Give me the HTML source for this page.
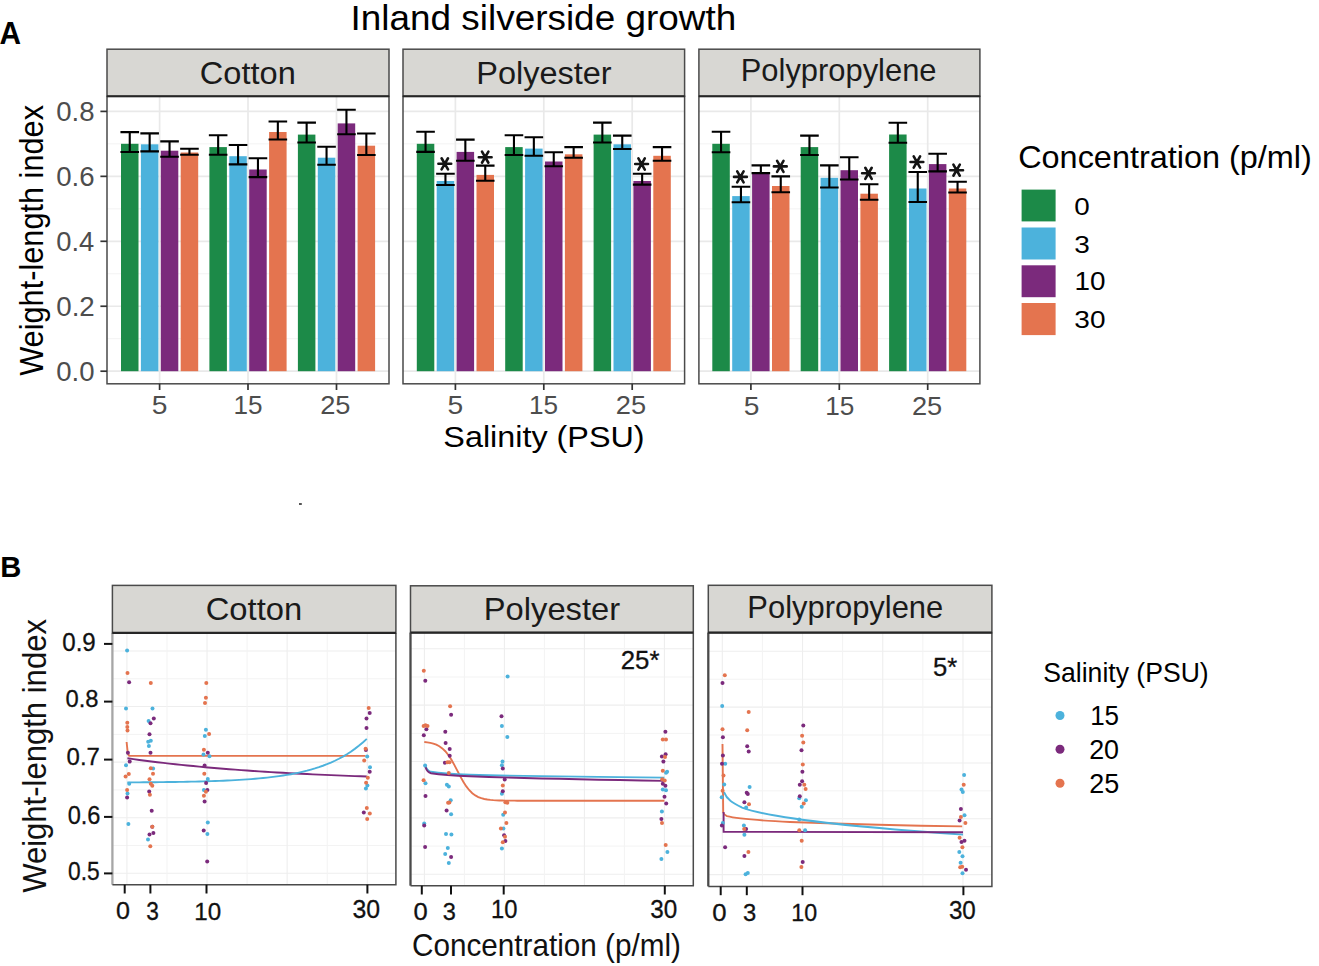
<!DOCTYPE html>
<html><head><meta charset="utf-8"><title>Inland silverside growth</title><style>html,body{margin:0;padding:0;background:#fff;width:1319px;height:966px;overflow:hidden}svg{display:block}</style></head>
<body><svg width="1319" height="966" viewBox="0 0 1319 966" font-family="'Liberation Sans', sans-serif"><rect x="0" y="0" width="1319" height="966" fill="#fff"/>
<line x1="107.0" x2="389.0" y1="338.72" y2="338.72" stroke="#f3f3f3" stroke-width="1"/>
<line x1="107.0" x2="389.0" y1="273.77" y2="273.77" stroke="#f3f3f3" stroke-width="1"/>
<line x1="107.0" x2="389.0" y1="208.82" y2="208.82" stroke="#f3f3f3" stroke-width="1"/>
<line x1="107.0" x2="389.0" y1="143.88" y2="143.88" stroke="#f3f3f3" stroke-width="1"/>
<line x1="107.0" x2="389.0" y1="371.20" y2="371.20" stroke="#e9e9e9" stroke-width="1.7"/>
<line x1="107.0" x2="389.0" y1="306.25" y2="306.25" stroke="#e9e9e9" stroke-width="1.7"/>
<line x1="107.0" x2="389.0" y1="241.30" y2="241.30" stroke="#e9e9e9" stroke-width="1.7"/>
<line x1="107.0" x2="389.0" y1="176.35" y2="176.35" stroke="#e9e9e9" stroke-width="1.7"/>
<line x1="107.0" x2="389.0" y1="111.40" y2="111.40" stroke="#e9e9e9" stroke-width="1.7"/>
<line x1="159.6" x2="159.6" y1="96.3" y2="383.8" stroke="#e9e9e9" stroke-width="1.7"/>
<line x1="248.0" x2="248.0" y1="96.3" y2="383.8" stroke="#e9e9e9" stroke-width="1.7"/>
<line x1="336.5" x2="336.5" y1="96.3" y2="383.8" stroke="#e9e9e9" stroke-width="1.7"/>
<rect x="121.00" y="143.8" width="17.5" height="227.40" fill="#1c8a48"/>
<rect x="140.90" y="144.3" width="17.5" height="226.90" fill="#4cb2dc"/>
<rect x="160.80" y="150.7" width="17.5" height="220.50" fill="#7b2a7c"/>
<rect x="180.70" y="152.5" width="17.5" height="218.70" fill="#e4744f"/>
<path d="M120.45 132.1H139.05M129.75 132.1V152M120.45 152H139.05" stroke="#000" stroke-width="2.1" fill="none"/>
<path d="M140.35 133.4H158.95M149.65 133.4V151.4M140.35 151.4H158.95" stroke="#000" stroke-width="2.1" fill="none"/>
<path d="M160.25 141.4H178.85M169.55 141.4V156.7M160.25 156.7H178.85" stroke="#000" stroke-width="2.1" fill="none"/>
<path d="M180.15 148.8H198.75M189.45 148.8V154.7M180.15 154.7H198.75" stroke="#000" stroke-width="2.1" fill="none"/>
<rect x="209.40" y="147.1" width="17.5" height="224.10" fill="#1c8a48"/>
<rect x="229.30" y="156.2" width="17.5" height="215.00" fill="#4cb2dc"/>
<rect x="249.20" y="169.5" width="17.5" height="201.70" fill="#7b2a7c"/>
<rect x="269.10" y="132" width="17.5" height="239.20" fill="#e4744f"/>
<path d="M208.85 135.2H227.45M218.15 135.2V154.8M208.85 154.8H227.45" stroke="#000" stroke-width="2.1" fill="none"/>
<path d="M228.75 145H247.35M238.05 145V164.4M228.75 164.4H247.35" stroke="#000" stroke-width="2.1" fill="none"/>
<path d="M248.65 158.2H267.25M257.95 158.2V177.1M248.65 177.1H267.25" stroke="#000" stroke-width="2.1" fill="none"/>
<path d="M268.55 121.5H287.15M277.85 121.5V139.5M268.55 139.5H287.15" stroke="#000" stroke-width="2.1" fill="none"/>
<rect x="297.90" y="134.6" width="17.5" height="236.60" fill="#1c8a48"/>
<rect x="317.80" y="157.7" width="17.5" height="213.50" fill="#4cb2dc"/>
<rect x="337.70" y="123.4" width="17.5" height="247.80" fill="#7b2a7c"/>
<rect x="357.60" y="145.7" width="17.5" height="225.50" fill="#e4744f"/>
<path d="M297.35 122.6H315.95M306.65 122.6V142.5M297.35 142.5H315.95" stroke="#000" stroke-width="2.1" fill="none"/>
<path d="M317.25 146.7H335.85M326.55 146.7V164.7M317.25 164.7H335.85" stroke="#000" stroke-width="2.1" fill="none"/>
<path d="M337.15 109.7H355.75M346.45 109.7V134.2M337.15 134.2H355.75" stroke="#000" stroke-width="2.1" fill="none"/>
<path d="M357.05 133.5H375.65M366.35 133.5V155M357.05 155H375.65" stroke="#000" stroke-width="2.1" fill="none"/>
<rect x="107.0" y="96.3" width="282.00" height="287.50" fill="none" stroke="#4a4a4a" stroke-width="1.5"/>
<rect x="107.0" y="49.2" width="282.00" height="47.10" fill="#d8d7d3" stroke="#4a4a4a" stroke-width="1.5"/>
<line x1="107.0" x2="389.0" y1="96.3" y2="96.3" stroke="#262626" stroke-width="2.1"/>
<line x1="159.6" x2="159.6" y1="383.8" y2="390.0" stroke="#333" stroke-width="1.7"/>
<line x1="248.0" x2="248.0" y1="383.8" y2="390.0" stroke="#333" stroke-width="1.7"/>
<line x1="336.5" x2="336.5" y1="383.8" y2="390.0" stroke="#333" stroke-width="1.7"/>
<line x1="403.0" x2="684.6" y1="338.72" y2="338.72" stroke="#f3f3f3" stroke-width="1"/>
<line x1="403.0" x2="684.6" y1="273.77" y2="273.77" stroke="#f3f3f3" stroke-width="1"/>
<line x1="403.0" x2="684.6" y1="208.82" y2="208.82" stroke="#f3f3f3" stroke-width="1"/>
<line x1="403.0" x2="684.6" y1="143.88" y2="143.88" stroke="#f3f3f3" stroke-width="1"/>
<line x1="403.0" x2="684.6" y1="371.20" y2="371.20" stroke="#e9e9e9" stroke-width="1.7"/>
<line x1="403.0" x2="684.6" y1="306.25" y2="306.25" stroke="#e9e9e9" stroke-width="1.7"/>
<line x1="403.0" x2="684.6" y1="241.30" y2="241.30" stroke="#e9e9e9" stroke-width="1.7"/>
<line x1="403.0" x2="684.6" y1="176.35" y2="176.35" stroke="#e9e9e9" stroke-width="1.7"/>
<line x1="403.0" x2="684.6" y1="111.40" y2="111.40" stroke="#e9e9e9" stroke-width="1.7"/>
<line x1="455.4" x2="455.4" y1="96.3" y2="383.8" stroke="#e9e9e9" stroke-width="1.7"/>
<line x1="543.8" x2="543.8" y1="96.3" y2="383.8" stroke="#e9e9e9" stroke-width="1.7"/>
<line x1="632.2" x2="632.2" y1="96.3" y2="383.8" stroke="#e9e9e9" stroke-width="1.7"/>
<rect x="416.80" y="143.8" width="17.5" height="227.40" fill="#1c8a48"/>
<rect x="436.70" y="181" width="17.5" height="190.20" fill="#4cb2dc"/>
<rect x="456.60" y="151.9" width="17.5" height="219.30" fill="#7b2a7c"/>
<rect x="476.50" y="174.9" width="17.5" height="196.30" fill="#e4744f"/>
<path d="M416.25 131.7H434.85M425.55 131.7V151.9M416.25 151.9H434.85" stroke="#000" stroke-width="2.1" fill="none"/>
<path d="M436.15 173.8H454.75M445.45 173.8V185M436.15 185H454.75" stroke="#000" stroke-width="2.1" fill="none"/>
<path d="M456.05 139.6H474.65M465.35 139.6V160.8M456.05 160.8H474.65" stroke="#000" stroke-width="2.1" fill="none"/>
<path d="M475.95 165.6H494.55M485.25 165.6V180.7M475.95 180.7H494.55" stroke="#000" stroke-width="2.1" fill="none"/>
<rect x="505.20" y="147.1" width="17.5" height="224.10" fill="#1c8a48"/>
<rect x="525.10" y="148.6" width="17.5" height="222.60" fill="#4cb2dc"/>
<rect x="545.00" y="161.5" width="17.5" height="209.70" fill="#7b2a7c"/>
<rect x="564.90" y="154.3" width="17.5" height="216.90" fill="#e4744f"/>
<path d="M504.65 135.2H523.25M513.95 135.2V155M504.65 155H523.25" stroke="#000" stroke-width="2.1" fill="none"/>
<path d="M524.55 137.3H543.15M533.85 137.3V155.8M524.55 155.8H543.15" stroke="#000" stroke-width="2.1" fill="none"/>
<path d="M544.45 152.2H563.05M553.75 152.2V166.3M544.45 166.3H563.05" stroke="#000" stroke-width="2.1" fill="none"/>
<path d="M564.35 147.1H582.95M573.65 147.1V157.7M564.35 157.7H582.95" stroke="#000" stroke-width="2.1" fill="none"/>
<rect x="593.60" y="134.6" width="17.5" height="236.60" fill="#1c8a48"/>
<rect x="613.50" y="144.3" width="17.5" height="226.90" fill="#4cb2dc"/>
<rect x="633.40" y="181" width="17.5" height="190.20" fill="#7b2a7c"/>
<rect x="653.30" y="155.8" width="17.5" height="215.40" fill="#e4744f"/>
<path d="M593.05 122.6H611.65M602.35 122.6V142.5M593.05 142.5H611.65" stroke="#000" stroke-width="2.1" fill="none"/>
<path d="M612.95 135.6H631.55M622.25 135.6V149M612.95 149H631.55" stroke="#000" stroke-width="2.1" fill="none"/>
<path d="M632.85 173.8H651.45M642.15 173.8V184.6M632.85 184.6H651.45" stroke="#000" stroke-width="2.1" fill="none"/>
<path d="M652.75 147.1H671.35M662.05 147.1V160.8M652.75 160.8H671.35" stroke="#000" stroke-width="2.1" fill="none"/>
<rect x="403.0" y="96.3" width="281.60" height="287.50" fill="none" stroke="#4a4a4a" stroke-width="1.5"/>
<rect x="403.0" y="49.2" width="281.60" height="47.10" fill="#d8d7d3" stroke="#4a4a4a" stroke-width="1.5"/>
<line x1="403.0" x2="684.6" y1="96.3" y2="96.3" stroke="#262626" stroke-width="2.1"/>
<line x1="455.4" x2="455.4" y1="383.8" y2="390.0" stroke="#333" stroke-width="1.7"/>
<line x1="543.8" x2="543.8" y1="383.8" y2="390.0" stroke="#333" stroke-width="1.7"/>
<line x1="632.2" x2="632.2" y1="383.8" y2="390.0" stroke="#333" stroke-width="1.7"/>
<line x1="698.9" x2="979.9" y1="338.72" y2="338.72" stroke="#f3f3f3" stroke-width="1"/>
<line x1="698.9" x2="979.9" y1="273.77" y2="273.77" stroke="#f3f3f3" stroke-width="1"/>
<line x1="698.9" x2="979.9" y1="208.82" y2="208.82" stroke="#f3f3f3" stroke-width="1"/>
<line x1="698.9" x2="979.9" y1="143.88" y2="143.88" stroke="#f3f3f3" stroke-width="1"/>
<line x1="698.9" x2="979.9" y1="371.20" y2="371.20" stroke="#e9e9e9" stroke-width="1.7"/>
<line x1="698.9" x2="979.9" y1="306.25" y2="306.25" stroke="#e9e9e9" stroke-width="1.7"/>
<line x1="698.9" x2="979.9" y1="241.30" y2="241.30" stroke="#e9e9e9" stroke-width="1.7"/>
<line x1="698.9" x2="979.9" y1="176.35" y2="176.35" stroke="#e9e9e9" stroke-width="1.7"/>
<line x1="698.9" x2="979.9" y1="111.40" y2="111.40" stroke="#e9e9e9" stroke-width="1.7"/>
<line x1="750.9" x2="750.9" y1="96.3" y2="383.8" stroke="#e9e9e9" stroke-width="1.7"/>
<line x1="839.3" x2="839.3" y1="96.3" y2="383.8" stroke="#e9e9e9" stroke-width="1.7"/>
<line x1="927.7" x2="927.7" y1="96.3" y2="383.8" stroke="#e9e9e9" stroke-width="1.7"/>
<rect x="712.30" y="143.8" width="17.5" height="227.40" fill="#1c8a48"/>
<rect x="732.20" y="196.1" width="17.5" height="175.10" fill="#4cb2dc"/>
<rect x="752.10" y="172.3" width="17.5" height="198.90" fill="#7b2a7c"/>
<rect x="772.00" y="186" width="17.5" height="185.20" fill="#e4744f"/>
<path d="M711.75 131.7H730.35M721.05 131.7V152.2M711.75 152.2H730.35" stroke="#000" stroke-width="2.1" fill="none"/>
<path d="M731.65 186.8H750.25M740.95 186.8V202.3M731.65 202.3H750.25" stroke="#000" stroke-width="2.1" fill="none"/>
<path d="M751.55 165.4H770.15M760.85 165.4V173.1M751.55 173.1H770.15" stroke="#000" stroke-width="2.1" fill="none"/>
<path d="M771.45 176.4H790.05M780.75 176.4V192.2M771.45 192.2H790.05" stroke="#000" stroke-width="2.1" fill="none"/>
<rect x="800.70" y="147.1" width="17.5" height="224.10" fill="#1c8a48"/>
<rect x="820.60" y="177.8" width="17.5" height="193.40" fill="#4cb2dc"/>
<rect x="840.50" y="170.2" width="17.5" height="201.00" fill="#7b2a7c"/>
<rect x="860.40" y="193.7" width="17.5" height="177.50" fill="#e4744f"/>
<path d="M800.15 135.6H818.75M809.45 135.6V155M800.15 155H818.75" stroke="#000" stroke-width="2.1" fill="none"/>
<path d="M820.05 165.4H838.65M829.35 165.4V187.5M820.05 187.5H838.65" stroke="#000" stroke-width="2.1" fill="none"/>
<path d="M839.95 157.2H858.55M849.25 157.2V179.5M839.95 179.5H858.55" stroke="#000" stroke-width="2.1" fill="none"/>
<path d="M859.85 184.2H878.45M869.15 184.2V199.7M859.85 199.7H878.45" stroke="#000" stroke-width="2.1" fill="none"/>
<rect x="889.10" y="134.5" width="17.5" height="236.70" fill="#1c8a48"/>
<rect x="909.00" y="188.5" width="17.5" height="182.70" fill="#4cb2dc"/>
<rect x="928.90" y="164.1" width="17.5" height="207.10" fill="#7b2a7c"/>
<rect x="948.80" y="188.5" width="17.5" height="182.70" fill="#e4744f"/>
<path d="M888.55 122.7H907.15M897.85 122.7V142.8M888.55 142.8H907.15" stroke="#000" stroke-width="2.1" fill="none"/>
<path d="M908.45 172H927.05M917.75 172V202M908.45 202H927.05" stroke="#000" stroke-width="2.1" fill="none"/>
<path d="M928.35 153.8H946.95M937.65 153.8V171.4M928.35 171.4H946.95" stroke="#000" stroke-width="2.1" fill="none"/>
<path d="M948.25 181.7H966.85M957.55 181.7V192.5M948.25 192.5H966.85" stroke="#000" stroke-width="2.1" fill="none"/>
<rect x="698.9" y="96.3" width="281.00" height="287.50" fill="none" stroke="#4a4a4a" stroke-width="1.5"/>
<rect x="698.9" y="49.2" width="281.00" height="47.10" fill="#d8d7d3" stroke="#4a4a4a" stroke-width="1.5"/>
<line x1="698.9" x2="979.9" y1="96.3" y2="96.3" stroke="#262626" stroke-width="2.1"/>
<line x1="750.9" x2="750.9" y1="383.8" y2="390.0" stroke="#333" stroke-width="1.7"/>
<line x1="839.3" x2="839.3" y1="383.8" y2="390.0" stroke="#333" stroke-width="1.7"/>
<line x1="927.7" x2="927.7" y1="383.8" y2="390.0" stroke="#333" stroke-width="1.7"/>
<path d="M438.40 163.80H451.20M441.60 158.26L448.00 169.34M448.00 158.26L441.60 169.34" stroke="#141414" stroke-width="2.6" stroke-linecap="round"/>
<path d="M478.80 157.20H491.60M482.00 151.66L488.40 162.74M488.40 151.66L482.00 162.74" stroke="#141414" stroke-width="2.6" stroke-linecap="round"/>
<path d="M635.20 164.00H648.00M638.40 158.46L644.80 169.54M644.80 158.46L638.40 169.54" stroke="#141414" stroke-width="2.6" stroke-linecap="round"/>
<path d="M734.00 176.90H746.80M737.20 171.36L743.60 182.44M743.60 171.36L737.20 182.44" stroke="#141414" stroke-width="2.6" stroke-linecap="round"/>
<path d="M773.90 166.40H786.70M777.10 160.86L783.50 171.94M783.50 160.86L777.10 171.94" stroke="#141414" stroke-width="2.6" stroke-linecap="round"/>
<path d="M862.10 173.30H874.90M865.30 167.76L871.70 178.84M871.70 167.76L865.30 178.84" stroke="#141414" stroke-width="2.6" stroke-linecap="round"/>
<path d="M910.50 162.00H923.30M913.70 156.46L920.10 167.54M920.10 156.46L913.70 167.54" stroke="#141414" stroke-width="2.6" stroke-linecap="round"/>
<path d="M950.20 170.20H963.00M953.40 164.66L959.80 175.74M959.80 164.66L953.40 175.74" stroke="#141414" stroke-width="2.6" stroke-linecap="round"/>
<line x1="100.4" x2="107" y1="371.20" y2="371.20" stroke="#333" stroke-width="1.7"/>
<text transform="translate(56.20 380.83) scale(1.0208 1)" font-size="27.00" fill="#4d4d4d">0.0</text>
<line x1="100.4" x2="107" y1="306.25" y2="306.25" stroke="#333" stroke-width="1.7"/>
<text transform="translate(56.19 315.88) scale(1.0286 1)" font-size="27.00" fill="#4d4d4d">0.2</text>
<line x1="100.4" x2="107" y1="241.30" y2="241.30" stroke="#333" stroke-width="1.7"/>
<text transform="translate(56.21 250.93) scale(1.0130 1)" font-size="27.00" fill="#4d4d4d">0.4</text>
<line x1="100.4" x2="107" y1="176.35" y2="176.35" stroke="#333" stroke-width="1.7"/>
<text transform="translate(56.19 185.98) scale(1.0247 1)" font-size="27.00" fill="#4d4d4d">0.6</text>
<line x1="100.4" x2="107" y1="111.40" y2="111.40" stroke="#333" stroke-width="1.7"/>
<text transform="translate(56.20 121.03) scale(1.0227 1)" font-size="27.00" fill="#4d4d4d">0.8</text>
<text transform="translate(151.87 414.24) scale(1.0871 1)" font-size="25.95" fill="#4d4d4d">5</text>
<text transform="translate(233.44 414.24) scale(1.0070 1)" font-size="25.95" fill="#4d4d4d">15</text>
<text transform="translate(320.14 414.24) scale(1.0654 1)" font-size="25.58" fill="#4d4d4d">25</text>
<text transform="translate(447.47 414.24) scale(1.0871 1)" font-size="25.95" fill="#4d4d4d">5</text>
<text transform="translate(529.04 414.24) scale(1.0070 1)" font-size="25.95" fill="#4d4d4d">15</text>
<text transform="translate(615.74 414.24) scale(1.0654 1)" font-size="25.58" fill="#4d4d4d">25</text>
<text transform="translate(743.67 414.84) scale(1.0871 1)" font-size="25.95" fill="#4d4d4d">5</text>
<text transform="translate(825.24 414.84) scale(1.0070 1)" font-size="25.95" fill="#4d4d4d">15</text>
<text transform="translate(911.94 414.84) scale(1.0654 1)" font-size="25.58" fill="#4d4d4d">25</text>
<text transform="translate(350.58 29.50) scale(1.0349 1)" font-size="35.67" fill="#000">Inland silverside growth</text>
<text transform="translate(-0.45 43.60) scale(0.9590 1)" font-size="31.13" font-weight="bold" fill="#000">A</text>
<text transform="translate(199.77 83.58) scale(1.0247 1)" font-size="31.80" fill="#1a1a1a">Cotton</text>
<text transform="translate(476.22 83.70) scale(1.0464 1)" font-size="31.06" fill="#1a1a1a">Polyester</text>
<text transform="translate(740.75 80.90) scale(1.0040 1)" font-size="30.78" fill="#1a1a1a">Polypropylene</text>
<text transform="translate(443.34 447.10) scale(1.0657 1)" font-size="30.35" fill="#000">Salinity (PSU)</text>
<text transform="translate(42.90 375.85) rotate(-90) scale(0.9419 1)" font-size="32.62" fill="#000">Weight-length index</text>
<text transform="translate(1018.18 168.12) scale(1.0393 1)" font-size="31.21" fill="#000">Concentration (p/ml)</text>
<rect x="1021.6" y="189.6" width="34" height="31.8" fill="#1c8a48"/>
<rect x="1021.6" y="227.5" width="34" height="32.0" fill="#4cb2dc"/>
<rect x="1021.6" y="265.3" width="34" height="31.9" fill="#7b2a7c"/>
<rect x="1021.6" y="303" width="34" height="32.1" fill="#e4744f"/>
<text transform="translate(1074.29 214.55) scale(1.1325 1)" font-size="24.59" fill="#000">0</text>
<text transform="translate(1074.35 252.56) scale(1.1451 1)" font-size="24.45" fill="#000">3</text>
<text transform="translate(1074.51 290.35) scale(1.1203 1)" font-size="24.88" fill="#000">10</text>
<text transform="translate(1074.35 327.95) scale(1.1393 1)" font-size="24.59" fill="#000">30</text>
<rect x="299" y="503" width="2.8" height="2" fill="#555"/>
<line x1="112.4" x2="395.9" y1="873.30" y2="873.30" stroke="#eeeeee" stroke-width="1.1"/>
<line x1="112.4" x2="395.9" y1="845.51" y2="845.51" stroke="#f3f3f3" stroke-width="1"/>
<line x1="112.4" x2="395.9" y1="817.73" y2="817.73" stroke="#eeeeee" stroke-width="1.1"/>
<line x1="112.4" x2="395.9" y1="789.94" y2="789.94" stroke="#f3f3f3" stroke-width="1"/>
<line x1="112.4" x2="395.9" y1="762.15" y2="762.15" stroke="#eeeeee" stroke-width="1.1"/>
<line x1="112.4" x2="395.9" y1="734.36" y2="734.36" stroke="#f3f3f3" stroke-width="1"/>
<line x1="112.4" x2="395.9" y1="706.57" y2="706.57" stroke="#eeeeee" stroke-width="1.1"/>
<line x1="112.4" x2="395.9" y1="678.79" y2="678.79" stroke="#f3f3f3" stroke-width="1"/>
<line x1="112.4" x2="395.9" y1="651.00" y2="651.00" stroke="#eeeeee" stroke-width="1.1"/>
<line x1="126.90" x2="126.90" y1="632.9" y2="884.7" stroke="#eeeeee" stroke-width="1.1"/>
<line x1="166.97" x2="166.97" y1="632.9" y2="884.7" stroke="#f3f3f3" stroke-width="1"/>
<line x1="207.03" x2="207.03" y1="632.9" y2="884.7" stroke="#eeeeee" stroke-width="1.1"/>
<line x1="247.09" x2="247.09" y1="632.9" y2="884.7" stroke="#f3f3f3" stroke-width="1"/>
<line x1="287.16" x2="287.16" y1="632.9" y2="884.7" stroke="#eeeeee" stroke-width="1.1"/>
<line x1="327.23" x2="327.23" y1="632.9" y2="884.7" stroke="#f3f3f3" stroke-width="1"/>
<line x1="367.29" x2="367.29" y1="632.9" y2="884.7" stroke="#eeeeee" stroke-width="1.1"/>
<line x1="410.5" x2="693.3" y1="874.30" y2="874.30" stroke="#eeeeee" stroke-width="1.1"/>
<line x1="410.5" x2="693.3" y1="846.11" y2="846.11" stroke="#f3f3f3" stroke-width="1"/>
<line x1="410.5" x2="693.3" y1="817.92" y2="817.92" stroke="#eeeeee" stroke-width="1.1"/>
<line x1="410.5" x2="693.3" y1="789.74" y2="789.74" stroke="#f3f3f3" stroke-width="1"/>
<line x1="410.5" x2="693.3" y1="761.55" y2="761.55" stroke="#eeeeee" stroke-width="1.1"/>
<line x1="410.5" x2="693.3" y1="733.36" y2="733.36" stroke="#f3f3f3" stroke-width="1"/>
<line x1="410.5" x2="693.3" y1="705.17" y2="705.17" stroke="#eeeeee" stroke-width="1.1"/>
<line x1="410.5" x2="693.3" y1="676.99" y2="676.99" stroke="#f3f3f3" stroke-width="1"/>
<line x1="410.5" x2="693.3" y1="648.80" y2="648.80" stroke="#eeeeee" stroke-width="1.1"/>
<line x1="424.40" x2="424.40" y1="632.6" y2="885.7" stroke="#eeeeee" stroke-width="1.1"/>
<line x1="464.40" x2="464.40" y1="632.6" y2="885.7" stroke="#f3f3f3" stroke-width="1"/>
<line x1="504.40" x2="504.40" y1="632.6" y2="885.7" stroke="#eeeeee" stroke-width="1.1"/>
<line x1="544.40" x2="544.40" y1="632.6" y2="885.7" stroke="#f3f3f3" stroke-width="1"/>
<line x1="584.40" x2="584.40" y1="632.6" y2="885.7" stroke="#eeeeee" stroke-width="1.1"/>
<line x1="624.40" x2="624.40" y1="632.6" y2="885.7" stroke="#f3f3f3" stroke-width="1"/>
<line x1="664.40" x2="664.40" y1="632.6" y2="885.7" stroke="#eeeeee" stroke-width="1.1"/>
<line x1="708.3" x2="991.9" y1="874.60" y2="874.60" stroke="#eeeeee" stroke-width="1.1"/>
<line x1="708.3" x2="991.9" y1="846.69" y2="846.69" stroke="#f3f3f3" stroke-width="1"/>
<line x1="708.3" x2="991.9" y1="818.77" y2="818.77" stroke="#eeeeee" stroke-width="1.1"/>
<line x1="708.3" x2="991.9" y1="790.86" y2="790.86" stroke="#f3f3f3" stroke-width="1"/>
<line x1="708.3" x2="991.9" y1="762.95" y2="762.95" stroke="#eeeeee" stroke-width="1.1"/>
<line x1="708.3" x2="991.9" y1="735.04" y2="735.04" stroke="#f3f3f3" stroke-width="1"/>
<line x1="708.3" x2="991.9" y1="707.12" y2="707.12" stroke="#eeeeee" stroke-width="1.1"/>
<line x1="708.3" x2="991.9" y1="679.21" y2="679.21" stroke="#f3f3f3" stroke-width="1"/>
<line x1="708.3" x2="991.9" y1="651.30" y2="651.30" stroke="#eeeeee" stroke-width="1.1"/>
<line x1="722.30" x2="722.30" y1="632.6" y2="886.4" stroke="#eeeeee" stroke-width="1.1"/>
<line x1="762.41" x2="762.41" y1="632.6" y2="886.4" stroke="#f3f3f3" stroke-width="1"/>
<line x1="802.53" x2="802.53" y1="632.6" y2="886.4" stroke="#eeeeee" stroke-width="1.1"/>
<line x1="842.64" x2="842.64" y1="632.6" y2="886.4" stroke="#f3f3f3" stroke-width="1"/>
<line x1="882.76" x2="882.76" y1="632.6" y2="886.4" stroke="#eeeeee" stroke-width="1.1"/>
<line x1="922.88" x2="922.88" y1="632.6" y2="886.4" stroke="#f3f3f3" stroke-width="1"/>
<line x1="962.99" x2="962.99" y1="632.6" y2="886.4" stroke="#eeeeee" stroke-width="1.1"/>
<path d="M126.6 742 L127.6 751.5 Q128.2 755.9 130 755.9 L365.5 755.9" stroke="#e4744f" stroke-width="1.9" fill="none"/>
<path d="M127.4 758.30 L133.4 759.14 L139.4 759.95 L145.4 760.73 L151.3 761.48 L157.3 762.21 L163.3 762.91 L169.3 763.59 L175.3 764.24 L181.3 764.87 L187.2 765.48 L193.2 766.07 L199.2 766.64 L205.2 767.19 L211.2 767.71 L217.2 768.22 L223.2 768.71 L229.1 769.19 L235.1 769.65 L241.1 770.09 L247.1 770.52 L253.1 770.93 L259.1 771.33 L265.1 771.71 L271.0 772.08 L277.0 772.44 L283.0 772.78 L289.0 773.11 L295.0 773.43 L301.0 773.74 L307.0 774.04 L312.9 774.33 L318.9 774.61 L324.9 774.88 L330.9 775.14 L336.9 775.39 L342.9 775.63 L348.8 775.86 L354.8 776.09 L360.8 776.30 L366.8 776.51" stroke="#7b2a7c" stroke-width="1.9" fill="none"/>
<path d="M127.4 782.40 L131.4 782.38 L135.4 782.35 L139.4 782.33 L143.4 782.30 L147.3 782.27 L151.3 782.24 L155.3 782.20 L159.3 782.16 L163.3 782.11 L167.3 782.07 L171.3 782.01 L175.3 781.96 L179.3 781.90 L183.3 781.83 L187.2 781.75 L191.2 781.67 L195.2 781.59 L199.2 781.49 L203.2 781.39 L207.2 781.27 L211.2 781.15 L215.2 781.01 L219.2 780.87 L223.2 780.71 L227.2 780.53 L231.1 780.34 L235.1 780.13 L239.1 779.90 L243.1 779.66 L247.1 779.39 L251.1 779.09 L255.1 778.77 L259.1 778.42 L263.1 778.04 L267.1 777.62 L271.0 777.17 L275.0 776.67 L279.0 776.13 L283.0 775.54 L287.0 774.90 L291.0 774.20 L295.0 773.43 L299.0 772.60 L303.0 771.69 L307.0 770.70 L310.9 769.62 L314.9 768.44 L318.9 767.16 L322.9 765.75 L326.9 764.23 L330.9 762.56 L334.9 760.74 L338.9 758.76 L342.9 756.60 L346.9 754.24 L350.8 751.67 L354.8 748.87 L358.8 745.81 L362.8 742.48 L366.8 738.84" stroke="#4cb2dc" stroke-width="1.9" fill="none"/>
<path d="M424.3 741.97 L427.3 742.33 L430.3 742.85 L433.3 743.61 L436.3 744.71 L439.3 746.25 L442.3 748.38 L445.3 751.25 L448.3 754.96 L451.3 759.53 L454.3 764.84 L457.3 770.59 L460.3 776.36 L463.3 781.74 L466.3 786.42 L469.3 790.24 L472.3 793.21 L475.3 795.42 L478.3 797.03 L481.3 798.17 L484.3 798.97 L487.3 799.52 L490.3 799.90 L493.3 800.15 L496.3 800.33 L499.3 800.45 L502.3 800.53 L505.3 800.59 L508.3 800.62 L511.3 800.65 L514.3 800.66 L517.3 800.68 L520.3 800.68 L523.3 800.69 L526.3 800.69 L529.3 800.70 L532.3 800.70 L535.3 800.70 L538.3 800.70 L541.3 800.70 L544.4 800.70 L547.4 800.70 L550.4 800.70 L553.4 800.70 L556.4 800.70 L559.4 800.70 L562.4 800.70 L565.4 800.70 L568.4 800.70 L571.4 800.70 L574.4 800.70 L577.4 800.70 L580.4 800.70 L583.4 800.70 L586.4 800.70 L589.4 800.70 L592.4 800.70 L595.4 800.70 L598.4 800.70 L601.4 800.70 L604.4 800.70 L607.4 800.70 L610.4 800.70 L613.4 800.70 L616.4 800.70 L619.4 800.70 L622.4 800.70 L625.4 800.70 L628.4 800.70 L631.4 800.70 L634.4 800.70 L637.4 800.70 L640.4 800.70 L643.4 800.70 L646.4 800.70 L649.4 800.70 L652.4 800.70 L655.4 800.70 L658.4 800.70 L661.4 800.70 L664.4 800.70" stroke="#e4744f" stroke-width="1.9" fill="none"/>
<path d="M425.3 765.5 C426.5 769.5 428 771 431 771.8 C440 773.2 450 774 470 774.8 C500 775.6 560 776.8 664.4 777.6" stroke="#4cb2dc" stroke-width="1.9" fill="none"/>
<path d="M425.3 766.5 C426.5 770.5 428 772.5 431 773.2 C440 774.4 450 775.3 470 776.3 C510 777.8 570 779.4 664.4 780.9" stroke="#7b2a7c" stroke-width="1.9" fill="none"/>
<path d="M722.5 744 L723.2 812.5 Q724 814.8 727 816.2 C740 819.5 760 820.5 790 822 C860 824.5 920 825.8 962.2 826.4" stroke="#e4744f" stroke-width="1.9" fill="none"/>
<path d="M724 792.2 C727 800 733 803 742 807.6 C770 818 840 826 963 834.6" stroke="#4cb2dc" stroke-width="1.9" fill="none"/>
<path d="M723.6 812 L723.6 831.8 L963 832.3" stroke="#7b2a7c" stroke-width="1.9" fill="none"/>
<circle cx="127.1" cy="650.5" r="2.0" fill="#4cb2dc"/>
<circle cx="126" cy="708.5" r="2.0" fill="#4cb2dc"/>
<circle cx="152.5" cy="708.5" r="2.0" fill="#4cb2dc"/>
<circle cx="148.6" cy="721" r="2.0" fill="#4cb2dc"/>
<circle cx="148.2" cy="741.7" r="2.0" fill="#4cb2dc"/>
<circle cx="150.8" cy="740.8" r="2.0" fill="#4cb2dc"/>
<circle cx="148.9" cy="746" r="2.0" fill="#4cb2dc"/>
<circle cx="126" cy="765.3" r="2.0" fill="#4cb2dc"/>
<circle cx="129.2" cy="783.8" r="2.0" fill="#4cb2dc"/>
<circle cx="127.5" cy="793.5" r="2.0" fill="#4cb2dc"/>
<circle cx="128.4" cy="824.1" r="2.0" fill="#4cb2dc"/>
<circle cx="153.1" cy="768.5" r="2.0" fill="#4cb2dc"/>
<circle cx="148" cy="839.4" r="2.0" fill="#4cb2dc"/>
<circle cx="205.9" cy="729.7" r="2.0" fill="#4cb2dc"/>
<circle cx="204.8" cy="735.9" r="2.0" fill="#4cb2dc"/>
<circle cx="203.5" cy="754.6" r="2.0" fill="#4cb2dc"/>
<circle cx="209.5" cy="756.3" r="2.0" fill="#4cb2dc"/>
<circle cx="207.8" cy="778.9" r="2.0" fill="#4cb2dc"/>
<circle cx="203.9" cy="790" r="2.0" fill="#4cb2dc"/>
<circle cx="207.8" cy="822.6" r="2.0" fill="#4cb2dc"/>
<circle cx="207.4" cy="834" r="2.0" fill="#4cb2dc"/>
<circle cx="367.2" cy="756.6" r="2.0" fill="#4cb2dc"/>
<circle cx="370" cy="767.3" r="2.0" fill="#4cb2dc"/>
<circle cx="367.4" cy="785.4" r="2.0" fill="#4cb2dc"/>
<circle cx="365.9" cy="788.5" r="2.0" fill="#4cb2dc"/>
<circle cx="425.1" cy="765.5" r="2.0" fill="#4cb2dc"/>
<circle cx="425.5" cy="783.2" r="2.0" fill="#4cb2dc"/>
<circle cx="446.9" cy="784.7" r="2.0" fill="#4cb2dc"/>
<circle cx="448.8" cy="786.4" r="2.0" fill="#4cb2dc"/>
<circle cx="450.7" cy="800.3" r="2.0" fill="#4cb2dc"/>
<circle cx="451.1" cy="814.2" r="2.0" fill="#4cb2dc"/>
<circle cx="424.2" cy="823.5" r="2.0" fill="#4cb2dc"/>
<circle cx="446" cy="834.1" r="2.0" fill="#4cb2dc"/>
<circle cx="451.4" cy="834.5" r="2.0" fill="#4cb2dc"/>
<circle cx="447.8" cy="848.1" r="2.0" fill="#4cb2dc"/>
<circle cx="445.2" cy="853.9" r="2.0" fill="#4cb2dc"/>
<circle cx="448.8" cy="863" r="2.0" fill="#4cb2dc"/>
<circle cx="507.6" cy="676.5" r="2.0" fill="#4cb2dc"/>
<circle cx="501.9" cy="726" r="2.0" fill="#4cb2dc"/>
<circle cx="507.3" cy="737" r="2.0" fill="#4cb2dc"/>
<circle cx="502.5" cy="761.6" r="2.0" fill="#4cb2dc"/>
<circle cx="501.9" cy="765.3" r="2.0" fill="#4cb2dc"/>
<circle cx="501.9" cy="793.8" r="2.0" fill="#4cb2dc"/>
<circle cx="503.2" cy="814.7" r="2.0" fill="#4cb2dc"/>
<circle cx="503.4" cy="828.5" r="2.0" fill="#4cb2dc"/>
<circle cx="501.9" cy="848.4" r="2.0" fill="#4cb2dc"/>
<circle cx="666" cy="772.8" r="2.0" fill="#4cb2dc"/>
<circle cx="667.1" cy="771.7" r="2.0" fill="#4cb2dc"/>
<circle cx="662.8" cy="789.6" r="2.0" fill="#4cb2dc"/>
<circle cx="666" cy="790.2" r="2.0" fill="#4cb2dc"/>
<circle cx="661.9" cy="811.6" r="2.0" fill="#4cb2dc"/>
<circle cx="667.4" cy="852" r="2.0" fill="#4cb2dc"/>
<circle cx="661.4" cy="858.9" r="2.0" fill="#4cb2dc"/>
<circle cx="722.2" cy="705.9" r="2.0" fill="#4cb2dc"/>
<circle cx="725.2" cy="763.8" r="2.0" fill="#4cb2dc"/>
<circle cx="724.2" cy="784.4" r="2.0" fill="#4cb2dc"/>
<circle cx="749.6" cy="786.9" r="2.0" fill="#4cb2dc"/>
<circle cx="721.7" cy="797.3" r="2.0" fill="#4cb2dc"/>
<circle cx="746.1" cy="807.6" r="2.0" fill="#4cb2dc"/>
<circle cx="722.8" cy="822.9" r="2.0" fill="#4cb2dc"/>
<circle cx="743.9" cy="825.4" r="2.0" fill="#4cb2dc"/>
<circle cx="744.4" cy="834.7" r="2.0" fill="#4cb2dc"/>
<circle cx="745.6" cy="874.2" r="2.0" fill="#4cb2dc"/>
<circle cx="747.8" cy="873" r="2.0" fill="#4cb2dc"/>
<circle cx="799.2" cy="798.3" r="2.0" fill="#4cb2dc"/>
<circle cx="805.9" cy="800.2" r="2.0" fill="#4cb2dc"/>
<circle cx="801.7" cy="806.7" r="2.0" fill="#4cb2dc"/>
<circle cx="799.2" cy="819.6" r="2.0" fill="#4cb2dc"/>
<circle cx="805.1" cy="830.2" r="2.0" fill="#4cb2dc"/>
<circle cx="964.1" cy="775.1" r="2.0" fill="#4cb2dc"/>
<circle cx="961.5" cy="789.5" r="2.0" fill="#4cb2dc"/>
<circle cx="962.8" cy="792.1" r="2.0" fill="#4cb2dc"/>
<circle cx="964.5" cy="815.3" r="2.0" fill="#4cb2dc"/>
<circle cx="959.3" cy="852.1" r="2.0" fill="#4cb2dc"/>
<circle cx="962.5" cy="856.3" r="2.0" fill="#4cb2dc"/>
<circle cx="960.6" cy="862.8" r="2.0" fill="#4cb2dc"/>
<circle cx="962.5" cy="873.2" r="2.0" fill="#4cb2dc"/>
<circle cx="129.1" cy="682.2" r="2.0" fill="#7b2a7c"/>
<circle cx="127.9" cy="752.7" r="2.0" fill="#7b2a7c"/>
<circle cx="153.8" cy="718.4" r="2.0" fill="#7b2a7c"/>
<circle cx="150.5" cy="723.3" r="2.0" fill="#7b2a7c"/>
<circle cx="149.5" cy="734.3" r="2.0" fill="#7b2a7c"/>
<circle cx="150.5" cy="752.7" r="2.0" fill="#7b2a7c"/>
<circle cx="129.7" cy="761.6" r="2.0" fill="#7b2a7c"/>
<circle cx="127.1" cy="797.4" r="2.0" fill="#7b2a7c"/>
<circle cx="149.2" cy="791.6" r="2.0" fill="#7b2a7c"/>
<circle cx="151.7" cy="810.7" r="2.0" fill="#7b2a7c"/>
<circle cx="152.3" cy="826.7" r="2.0" fill="#7b2a7c"/>
<circle cx="153.4" cy="832.9" r="2.0" fill="#7b2a7c"/>
<circle cx="149.5" cy="834.6" r="2.0" fill="#7b2a7c"/>
<circle cx="207.8" cy="752.7" r="2.0" fill="#7b2a7c"/>
<circle cx="204.6" cy="765.4" r="2.0" fill="#7b2a7c"/>
<circle cx="206.1" cy="783.1" r="2.0" fill="#7b2a7c"/>
<circle cx="207.4" cy="790" r="2.0" fill="#7b2a7c"/>
<circle cx="204.6" cy="801.6" r="2.0" fill="#7b2a7c"/>
<circle cx="203.7" cy="830.6" r="2.0" fill="#7b2a7c"/>
<circle cx="207.2" cy="861.4" r="2.0" fill="#7b2a7c"/>
<circle cx="369.7" cy="713" r="2.0" fill="#7b2a7c"/>
<circle cx="366.5" cy="718.4" r="2.0" fill="#7b2a7c"/>
<circle cx="366.5" cy="728.1" r="2.0" fill="#7b2a7c"/>
<circle cx="365.9" cy="750.1" r="2.0" fill="#7b2a7c"/>
<circle cx="369.7" cy="771.7" r="2.0" fill="#7b2a7c"/>
<circle cx="363.8" cy="812.6" r="2.0" fill="#7b2a7c"/>
<circle cx="425.3" cy="680.7" r="2.0" fill="#7b2a7c"/>
<circle cx="451.1" cy="714.7" r="2.0" fill="#7b2a7c"/>
<circle cx="426.4" cy="729.2" r="2.0" fill="#7b2a7c"/>
<circle cx="423.8" cy="735.3" r="2.0" fill="#7b2a7c"/>
<circle cx="445.3" cy="731.8" r="2.0" fill="#7b2a7c"/>
<circle cx="445.6" cy="743.1" r="2.0" fill="#7b2a7c"/>
<circle cx="449.7" cy="749" r="2.0" fill="#7b2a7c"/>
<circle cx="449.7" cy="755.7" r="2.0" fill="#7b2a7c"/>
<circle cx="444.9" cy="762.8" r="2.0" fill="#7b2a7c"/>
<circle cx="425.5" cy="796.1" r="2.0" fill="#7b2a7c"/>
<circle cx="446.6" cy="810.6" r="2.0" fill="#7b2a7c"/>
<circle cx="424.2" cy="825.5" r="2.0" fill="#7b2a7c"/>
<circle cx="425.1" cy="847.1" r="2.0" fill="#7b2a7c"/>
<circle cx="451.1" cy="856.9" r="2.0" fill="#7b2a7c"/>
<circle cx="501.5" cy="716.3" r="2.0" fill="#7b2a7c"/>
<circle cx="502.8" cy="768.6" r="2.0" fill="#7b2a7c"/>
<circle cx="504.7" cy="779.6" r="2.0" fill="#7b2a7c"/>
<circle cx="502.8" cy="791.2" r="2.0" fill="#7b2a7c"/>
<circle cx="504.1" cy="835.2" r="2.0" fill="#7b2a7c"/>
<circle cx="505.4" cy="841" r="2.0" fill="#7b2a7c"/>
<circle cx="665.4" cy="731.8" r="2.0" fill="#7b2a7c"/>
<circle cx="665.6" cy="754.3" r="2.0" fill="#7b2a7c"/>
<circle cx="661.9" cy="756.6" r="2.0" fill="#7b2a7c"/>
<circle cx="663.4" cy="761.5" r="2.0" fill="#7b2a7c"/>
<circle cx="662.8" cy="783.8" r="2.0" fill="#7b2a7c"/>
<circle cx="665.4" cy="785.7" r="2.0" fill="#7b2a7c"/>
<circle cx="664.5" cy="796.7" r="2.0" fill="#7b2a7c"/>
<circle cx="666.2" cy="803.5" r="2.0" fill="#7b2a7c"/>
<circle cx="661.4" cy="818.9" r="2.0" fill="#7b2a7c"/>
<circle cx="722.5" cy="682.9" r="2.0" fill="#7b2a7c"/>
<circle cx="722.9" cy="737.2" r="2.0" fill="#7b2a7c"/>
<circle cx="747.2" cy="746.3" r="2.0" fill="#7b2a7c"/>
<circle cx="748.7" cy="751.6" r="2.0" fill="#7b2a7c"/>
<circle cx="722.9" cy="755.4" r="2.0" fill="#7b2a7c"/>
<circle cx="722" cy="763.8" r="2.0" fill="#7b2a7c"/>
<circle cx="746.7" cy="792.8" r="2.0" fill="#7b2a7c"/>
<circle cx="747.8" cy="794.1" r="2.0" fill="#7b2a7c"/>
<circle cx="744.4" cy="802.2" r="2.0" fill="#7b2a7c"/>
<circle cx="721.9" cy="825.4" r="2.0" fill="#7b2a7c"/>
<circle cx="746.1" cy="829" r="2.0" fill="#7b2a7c"/>
<circle cx="725.1" cy="847.2" r="2.0" fill="#7b2a7c"/>
<circle cx="744.4" cy="856" r="2.0" fill="#7b2a7c"/>
<circle cx="803.3" cy="725.6" r="2.0" fill="#7b2a7c"/>
<circle cx="801.5" cy="750.2" r="2.0" fill="#7b2a7c"/>
<circle cx="802.4" cy="771.8" r="2.0" fill="#7b2a7c"/>
<circle cx="802.1" cy="781.2" r="2.0" fill="#7b2a7c"/>
<circle cx="799.8" cy="784.7" r="2.0" fill="#7b2a7c"/>
<circle cx="799.8" cy="796.3" r="2.0" fill="#7b2a7c"/>
<circle cx="802.7" cy="862" r="2.0" fill="#7b2a7c"/>
<circle cx="960.9" cy="809.1" r="2.0" fill="#7b2a7c"/>
<circle cx="959.6" cy="820.5" r="2.0" fill="#7b2a7c"/>
<circle cx="961.5" cy="842.1" r="2.0" fill="#7b2a7c"/>
<circle cx="964.5" cy="840.8" r="2.0" fill="#7b2a7c"/>
<circle cx="966" cy="869.7" r="2.0" fill="#7b2a7c"/>
<circle cx="127.5" cy="673.1" r="2.0" fill="#e4744f"/>
<circle cx="127.3" cy="722.7" r="2.0" fill="#e4744f"/>
<circle cx="127.3" cy="727.1" r="2.0" fill="#e4744f"/>
<circle cx="127.5" cy="730.4" r="2.0" fill="#e4744f"/>
<circle cx="150.8" cy="683.1" r="2.0" fill="#e4744f"/>
<circle cx="128.8" cy="774.1" r="2.0" fill="#e4744f"/>
<circle cx="125.6" cy="776.4" r="2.0" fill="#e4744f"/>
<circle cx="127.1" cy="789.9" r="2.0" fill="#e4744f"/>
<circle cx="150.8" cy="768.3" r="2.0" fill="#e4744f"/>
<circle cx="153" cy="773.7" r="2.0" fill="#e4744f"/>
<circle cx="149.5" cy="779.3" r="2.0" fill="#e4744f"/>
<circle cx="150.8" cy="783.8" r="2.0" fill="#e4744f"/>
<circle cx="152.3" cy="785.7" r="2.0" fill="#e4744f"/>
<circle cx="149.9" cy="794.8" r="2.0" fill="#e4744f"/>
<circle cx="152.3" cy="826.7" r="2.0" fill="#e4744f"/>
<circle cx="150.3" cy="846.3" r="2.0" fill="#e4744f"/>
<circle cx="206.3" cy="683.1" r="2.0" fill="#e4744f"/>
<circle cx="205.9" cy="697.7" r="2.0" fill="#e4744f"/>
<circle cx="205" cy="702.9" r="2.0" fill="#e4744f"/>
<circle cx="209.1" cy="733.9" r="2.0" fill="#e4744f"/>
<circle cx="203.9" cy="749.8" r="2.0" fill="#e4744f"/>
<circle cx="204.3" cy="773.7" r="2.0" fill="#e4744f"/>
<circle cx="205.9" cy="791.8" r="2.0" fill="#e4744f"/>
<circle cx="203.9" cy="795.7" r="2.0" fill="#e4744f"/>
<circle cx="368.7" cy="708.1" r="2.0" fill="#e4744f"/>
<circle cx="365.6" cy="748.8" r="2.0" fill="#e4744f"/>
<circle cx="364.2" cy="760.5" r="2.0" fill="#e4744f"/>
<circle cx="367.8" cy="777.7" r="2.0" fill="#e4744f"/>
<circle cx="366.1" cy="782.8" r="2.0" fill="#e4744f"/>
<circle cx="366.8" cy="807.9" r="2.0" fill="#e4744f"/>
<circle cx="369.8" cy="813.5" r="2.0" fill="#e4744f"/>
<circle cx="367.2" cy="819.1" r="2.0" fill="#e4744f"/>
<circle cx="423.8" cy="670.8" r="2.0" fill="#e4744f"/>
<circle cx="450.1" cy="706.3" r="2.0" fill="#e4744f"/>
<circle cx="425.5" cy="725.3" r="2.0" fill="#e4744f"/>
<circle cx="423.6" cy="726" r="2.0" fill="#e4744f"/>
<circle cx="427.5" cy="726" r="2.0" fill="#e4744f"/>
<circle cx="447.5" cy="762.2" r="2.0" fill="#e4744f"/>
<circle cx="449.5" cy="762.2" r="2.0" fill="#e4744f"/>
<circle cx="448.8" cy="773.1" r="2.0" fill="#e4744f"/>
<circle cx="423.6" cy="780.2" r="2.0" fill="#e4744f"/>
<circle cx="448.1" cy="802.8" r="2.0" fill="#e4744f"/>
<circle cx="449.4" cy="802.6" r="2.0" fill="#e4744f"/>
<circle cx="502.8" cy="785.4" r="2.0" fill="#e4744f"/>
<circle cx="505.4" cy="802.2" r="2.0" fill="#e4744f"/>
<circle cx="507.3" cy="802.8" r="2.0" fill="#e4744f"/>
<circle cx="505" cy="812.5" r="2.0" fill="#e4744f"/>
<circle cx="506.4" cy="823.1" r="2.0" fill="#e4744f"/>
<circle cx="500.9" cy="828.5" r="2.0" fill="#e4744f"/>
<circle cx="505" cy="836.7" r="2.0" fill="#e4744f"/>
<circle cx="502.8" cy="842.3" r="2.0" fill="#e4744f"/>
<circle cx="662.8" cy="739.5" r="2.0" fill="#e4744f"/>
<circle cx="666" cy="739.5" r="2.0" fill="#e4744f"/>
<circle cx="665" cy="757" r="2.0" fill="#e4744f"/>
<circle cx="662.8" cy="770.8" r="2.0" fill="#e4744f"/>
<circle cx="662.2" cy="779.2" r="2.0" fill="#e4744f"/>
<circle cx="664.7" cy="780.5" r="2.0" fill="#e4744f"/>
<circle cx="662" cy="823.1" r="2.0" fill="#e4744f"/>
<circle cx="665.7" cy="845" r="2.0" fill="#e4744f"/>
<circle cx="724.8" cy="675.3" r="2.0" fill="#e4744f"/>
<circle cx="748.7" cy="712" r="2.0" fill="#e4744f"/>
<circle cx="722.5" cy="729.2" r="2.0" fill="#e4744f"/>
<circle cx="747.2" cy="730.2" r="2.0" fill="#e4744f"/>
<circle cx="723.5" cy="775.5" r="2.0" fill="#e4744f"/>
<circle cx="722.6" cy="790.7" r="2.0" fill="#e4744f"/>
<circle cx="749" cy="804.2" r="2.0" fill="#e4744f"/>
<circle cx="744.2" cy="829" r="2.0" fill="#e4744f"/>
<circle cx="748.4" cy="852" r="2.0" fill="#e4744f"/>
<circle cx="802.1" cy="735.8" r="2.0" fill="#e4744f"/>
<circle cx="803.3" cy="742.4" r="2.0" fill="#e4744f"/>
<circle cx="802.8" cy="764.4" r="2.0" fill="#e4744f"/>
<circle cx="804.3" cy="784.7" r="2.0" fill="#e4744f"/>
<circle cx="805.6" cy="789" r="2.0" fill="#e4744f"/>
<circle cx="803.7" cy="803.5" r="2.0" fill="#e4744f"/>
<circle cx="799.3" cy="830.2" r="2.0" fill="#e4744f"/>
<circle cx="801.7" cy="840.8" r="2.0" fill="#e4744f"/>
<circle cx="801.4" cy="867.1" r="2.0" fill="#e4744f"/>
<circle cx="963.7" cy="784.8" r="2.0" fill="#e4744f"/>
<circle cx="960.9" cy="816.9" r="2.0" fill="#e4744f"/>
<circle cx="965.4" cy="823.1" r="2.0" fill="#e4744f"/>
<circle cx="959.6" cy="837.8" r="2.0" fill="#e4744f"/>
<circle cx="962.4" cy="847.3" r="2.0" fill="#e4744f"/>
<circle cx="962.2" cy="866.7" r="2.0" fill="#e4744f"/>
<circle cx="960.2" cy="867.3" r="2.0" fill="#e4744f"/>
<path d="M112.4 632.9V884.7" stroke="#a6a6a6" stroke-width="2.3" fill="none"/>
<path d="M112.4 884.7H395.9V632.9" stroke="#4a4a4a" stroke-width="1.5" fill="none"/>
<rect x="112.4" y="585.4" width="283.50" height="47.50" fill="#d8d7d3" stroke="#4a4a4a" stroke-width="1.5"/>
<line x1="112.4" x2="395.9" y1="632.9" y2="632.9" stroke="#262626" stroke-width="2.1"/>
<path d="M410.5 632.6V885.7" stroke="#4a4a4a" stroke-width="2.3" fill="none"/>
<path d="M410.5 885.7H693.3V632.6" stroke="#4a4a4a" stroke-width="1.5" fill="none"/>
<rect x="410.5" y="585.8" width="282.80" height="46.80" fill="#d8d7d3" stroke="#4a4a4a" stroke-width="1.5"/>
<line x1="410.5" x2="693.3" y1="632.6" y2="632.6" stroke="#262626" stroke-width="2.1"/>
<path d="M708.3 632.6V886.4" stroke="#4a4a4a" stroke-width="2.3" fill="none"/>
<path d="M708.3 886.4H991.9V632.6" stroke="#4a4a4a" stroke-width="1.5" fill="none"/>
<rect x="708.3" y="585.3" width="283.60" height="47.30" fill="#d8d7d3" stroke="#4a4a4a" stroke-width="1.5"/>
<line x1="708.3" x2="991.9" y1="632.6" y2="632.6" stroke="#262626" stroke-width="2.1"/>
<line x1="124.7" x2="124.7" y1="884.7" y2="893.5" stroke="#111" stroke-width="2"/>
<line x1="150.4" x2="150.4" y1="884.7" y2="893.5" stroke="#111" stroke-width="2"/>
<line x1="206.5" x2="206.5" y1="884.7" y2="893.5" stroke="#111" stroke-width="2"/>
<line x1="367.4" x2="367.4" y1="884.7" y2="893.5" stroke="#111" stroke-width="2"/>
<line x1="421.8" x2="421.8" y1="885.7" y2="894.5" stroke="#111" stroke-width="2"/>
<line x1="451" x2="451" y1="885.7" y2="894.5" stroke="#111" stroke-width="2"/>
<line x1="503.7" x2="503.7" y1="885.7" y2="894.5" stroke="#111" stroke-width="2"/>
<line x1="664.8" x2="664.8" y1="885.7" y2="894.5" stroke="#111" stroke-width="2"/>
<line x1="720.7" x2="720.7" y1="886.4" y2="895.1999999999999" stroke="#111" stroke-width="2"/>
<line x1="746.8" x2="746.8" y1="886.4" y2="895.1999999999999" stroke="#111" stroke-width="2"/>
<line x1="802.5" x2="802.5" y1="886.4" y2="895.1999999999999" stroke="#111" stroke-width="2"/>
<line x1="963.4" x2="963.4" y1="886.4" y2="895.1999999999999" stroke="#111" stroke-width="2"/>
<line x1="104" x2="112.4" y1="643.9" y2="643.9" stroke="#111" stroke-width="2"/>
<line x1="104" x2="112.4" y1="701.6" y2="701.6" stroke="#111" stroke-width="2"/>
<line x1="104" x2="112.4" y1="759.6" y2="759.6" stroke="#111" stroke-width="2"/>
<line x1="104" x2="112.4" y1="816.9" y2="816.9" stroke="#111" stroke-width="2"/>
<line x1="104" x2="112.4" y1="873.4" y2="873.4" stroke="#111" stroke-width="2"/>
<text transform="translate(0.13 576.50) scale(0.9786 1)" font-size="29.82" font-weight="bold" fill="#000">B</text>
<text transform="translate(205.66 620.18) scale(1.0166 1)" font-size="32.23" fill="#1a1a1a">Cotton</text>
<text transform="translate(483.80 619.70) scale(1.0723 1)" font-size="30.50" fill="#1a1a1a">Polyester</text>
<text transform="translate(747.35 617.60) scale(0.9999 1)" font-size="30.92" fill="#1a1a1a">Polypropylene</text>
<text transform="translate(62.24 650.65) scale(0.9529 1)" font-size="25.30" fill="#111" stroke="#111" stroke-width="0.3">0.9</text>
<text transform="translate(65.45 706.55) scale(0.9616 1)" font-size="24.73" fill="#111" stroke="#111" stroke-width="0.3">0.8</text>
<text transform="translate(66.54 765.45) scale(0.9703 1)" font-size="24.73" fill="#111" stroke="#111" stroke-width="0.3">0.7</text>
<text transform="translate(67.66 824.15) scale(0.9381 1)" font-size="25.16" fill="#111" stroke="#111" stroke-width="0.3">0.6</text>
<text transform="translate(67.99 879.55) scale(0.9110 1)" font-size="25.02" fill="#111" stroke="#111" stroke-width="0.3">0.5</text>
<text transform="translate(116.09 919.15) scale(1.0218 1)" font-size="24.59" fill="#111" stroke="#111" stroke-width="0.3">0</text>
<text transform="translate(146.35 919.55) scale(0.9037 1)" font-size="25.16" fill="#111" stroke="#111" stroke-width="0.3">3</text>
<text transform="translate(194.29 919.86) scale(0.9881 1)" font-size="24.45" fill="#111" stroke="#111" stroke-width="0.3">10</text>
<text transform="translate(352.47 917.75) scale(0.9870 1)" font-size="25.16" fill="#111" stroke="#111" stroke-width="0.3">30</text>
<text transform="translate(413.58 919.76) scale(1.0449 1)" font-size="24.45" fill="#111" stroke="#111" stroke-width="0.3">0</text>
<text transform="translate(442.82 919.76) scale(0.9643 1)" font-size="24.45" fill="#111" stroke="#111" stroke-width="0.3">3</text>
<text transform="translate(491.02 917.55) scale(0.9444 1)" font-size="25.16" fill="#111" stroke="#111" stroke-width="0.3">10</text>
<text transform="translate(650.19 917.55) scale(0.9585 1)" font-size="25.30" fill="#111" stroke="#111" stroke-width="0.3">30</text>
<text transform="translate(712.27 920.66) scale(1.0596 1)" font-size="24.31" fill="#111" stroke="#111" stroke-width="0.3">0</text>
<text transform="translate(743.01 920.66) scale(0.9785 1)" font-size="24.31" fill="#111" stroke="#111" stroke-width="0.3">3</text>
<text transform="translate(791.36 920.66) scale(0.9567 1)" font-size="24.31" fill="#111" stroke="#111" stroke-width="0.3">10</text>
<text transform="translate(948.89 919.34) scale(0.9479 1)" font-size="25.58" fill="#111" stroke="#111" stroke-width="0.3">30</text>
<text transform="translate(46.20 892.86) rotate(-90) scale(0.9558 1)" font-size="32.48" fill="#111">Weight-length index</text>
<text transform="translate(412.01 955.60) scale(0.9544 1)" font-size="31.13" fill="#111">Concentration (p/ml)</text>
<text transform="translate(620.71 669.35) scale(1.0365 1)" font-size="24.88" fill="#111" stroke="#111" stroke-width="0.3">25*</text>
<text transform="translate(932.98 676.43) scale(0.9659 1)" font-size="26.52" fill="#111" stroke="#111" stroke-width="0.3">5*</text>
<text transform="translate(1043.30 681.60) scale(0.9817 1)" font-size="27.09" fill="#000">Salinity (PSU)</text>
<circle cx="1060" cy="715.5" r="4.5" fill="#4cb2dc"/>
<circle cx="1060" cy="749.2" r="4.5" fill="#7b2a7c"/>
<circle cx="1060" cy="783.3" r="4.5" fill="#e4744f"/>
<text transform="translate(1090.15 725.12) scale(0.9456 1)" font-size="27.53" fill="#000">15</text>
<text transform="translate(1089.16 759.23) scale(0.9962 1)" font-size="27.00" fill="#000">20</text>
<text transform="translate(1089.15 792.93) scale(0.9935 1)" font-size="27.14" fill="#000">25</text></svg></body></html>
